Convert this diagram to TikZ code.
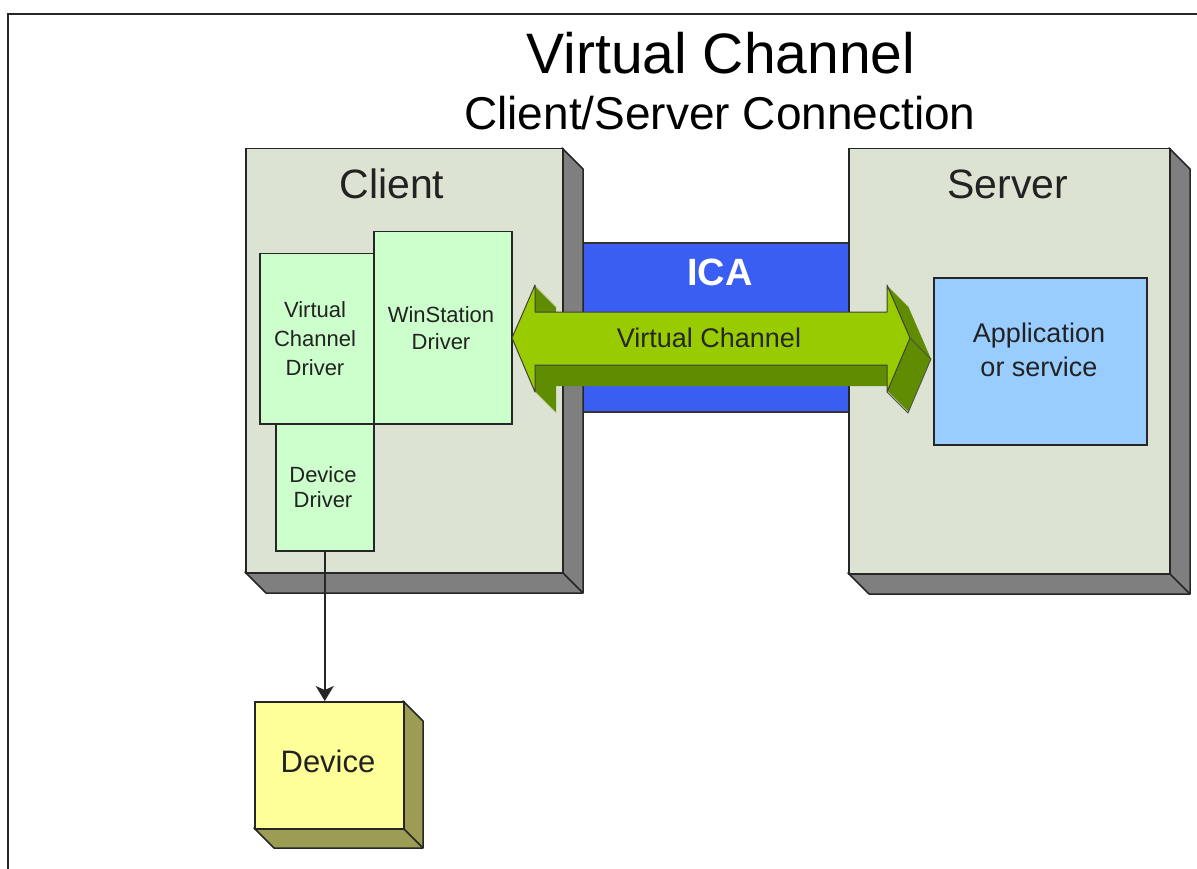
\documentclass[tikz,border=0pt]{standalone}
\usepackage{fontspec}
\setmainfont{Liberation Sans}
\usetikzlibrary{arrows.meta}
\definecolor{panel}{HTML}{DCE3D2}
\definecolor{sidegrey}{HTML}{7F7F7F}
\definecolor{drvgreen}{HTML}{CCFFCC}
\definecolor{icablue}{HTML}{3A5EF2}
\definecolor{appblue}{HTML}{99CCFF}
\definecolor{devyellow}{HTML}{FFFF99}
\definecolor{devside}{HTML}{9C9C55}
\definecolor{vclight}{HTML}{99CC00}
\definecolor{vcdark}{HTML}{5F8C00}
\definecolor{txt}{HTML}{222222}
\tikzset{
  edge/.style={draw=black!85, line width=1.5pt},
  frontbox/.style={edge, rectangle, inner sep=0pt, anchor=north west},
  sidebox/.style={edge, line join=round},
  lbl/.style={text=txt, inner sep=0pt, align=center},
}
\begin{document}
\begin{tikzpicture}[x=1pt,y=-1pt]
\useasboundingbox (0,0) rectangle (1197,869);
\fill[white] (0,0) rectangle (1197,869);
\draw[line width=2.5pt, draw=black!85] (8,869) -- (8,14) -- (1197,14);

% titles
\node[lbl, text=black, anchor=base, font=\fontsize{57}{60}\selectfont] (title) at (721,74) {Virtual Channel};
\node[lbl, text=black, anchor=base, font=\fontsize{46}{50}\selectfont] (subtitle) at (720,130) {Client/Server Connection};

% ICA band
\fill[icablue] (570,243) rectangle (850,412);
\draw[line width=1.5pt, draw=black!80] (570,243) -- (850,243) (570,412) -- (850,412);

% client box
\filldraw[sidebox, fill=sidegrey] (562,148) -- (583,169) -- (583,593) -- (266,593) -- (245,572) -- (562,572) -- cycle;
\draw[edge] (562,572) -- (583,593);
\node[frontbox, fill=panel, minimum width=317pt, minimum height=424pt] (client) at (245,148) {};
\node[lbl, anchor=base, font=\fontsize{41}{44}\selectfont] (clientlbl) at (392,199) {Client};

% server box
\filldraw[sidebox, fill=sidegrey] (1169,148) -- (1190,169) -- (1190,594) -- (869,594) -- (848,573) -- (1169,573) -- cycle;
\draw[edge] (1169,573) -- (1190,594);
\node[frontbox, fill=panel, minimum width=321pt, minimum height=425pt] (server) at (848,148) {};
\node[lbl, anchor=base, font=\fontsize{41}{44}\selectfont] (serverlbl) at (1008,199) {Server};

% drivers
\node[frontbox, fill=drvgreen, minimum width=98pt, minimum height=127pt] (dd) at (275,423) {};
\node[frontbox, fill=drvgreen, minimum width=114pt, minimum height=170pt] (vcd) at (259,253) {};
\node[frontbox, fill=drvgreen, minimum width=138pt, minimum height=192pt] (wsd) at (373,231) {};
\node[lbl, font=\fontsize{22}{29}\selectfont] (vcdlbl) at (315,339) {Virtual\\Channel\\Driver};
\node[lbl, font=\fontsize{22}{27}\selectfont] (wsdlbl) at (441,328) {WinStation\\Driver};
\node[lbl, font=\fontsize{22}{25}\selectfont] (ddlbl) at (323,487) {Device\\Driver};

% application box
\node[frontbox, fill=appblue, minimum width=213pt, minimum height=167pt] (app) at (933,277) {};
\node[lbl, font=\fontsize{27}{34}\selectfont] (applbl) at (1039,350) {Application\\or service};

% device
\filldraw[sidebox, fill=devside] (403,701) -- (423,721) -- (423,848) -- (274,848) -- (254,828) -- (403,828) -- cycle;
\draw[edge] (403,828) -- (423,848);
\node[frontbox, fill=devyellow, minimum width=149pt, minimum height=127pt] (dev) at (254,701) {};
\node[lbl, anchor=base, font=\fontsize{31}{34}\selectfont] (devlbl) at (328,772) {Device};

% connector
\draw[line width=1.5pt, draw=black!85, -{Stealth[length=15pt, width=18pt, inset=4pt]}] (dd.south) -- (dd.south |- dev.north);

% ICA label
\node[lbl, text=white, anchor=base, font=\bfseries\fontsize{38}{40}\selectfont] (ica) at (720,285) {ICA};

% 3D double arrow
\foreach \t in {1,...,21}{
  \fill[vcdark, shift={(\t,\t)}] (512,338) -- (535,285) -- (535,312) -- (887,312) -- (887,285) -- (910,338) -- (887,392) -- (887,365) -- (535,365) -- (535,392) -- cycle;
}
\draw[line width=0.8pt, draw=black!70, line join=round] (910,338) -- (931,359) -- (908,413) -- (887,392);
\filldraw[fill=vclight, draw=black!75, line width=1pt, line join=round] (512,338) -- (535,285) -- (535,312) -- (887,312) -- (887,285) -- (910,338) -- (887,392) -- (887,365) -- (535,365) -- (535,392) -- cycle;
\node[lbl, anchor=base, text=black!85, font=\fontsize{27}{30}\selectfont] (vclbl) at (709,347) {Virtual Channel};
\end{tikzpicture}
\end{document}
